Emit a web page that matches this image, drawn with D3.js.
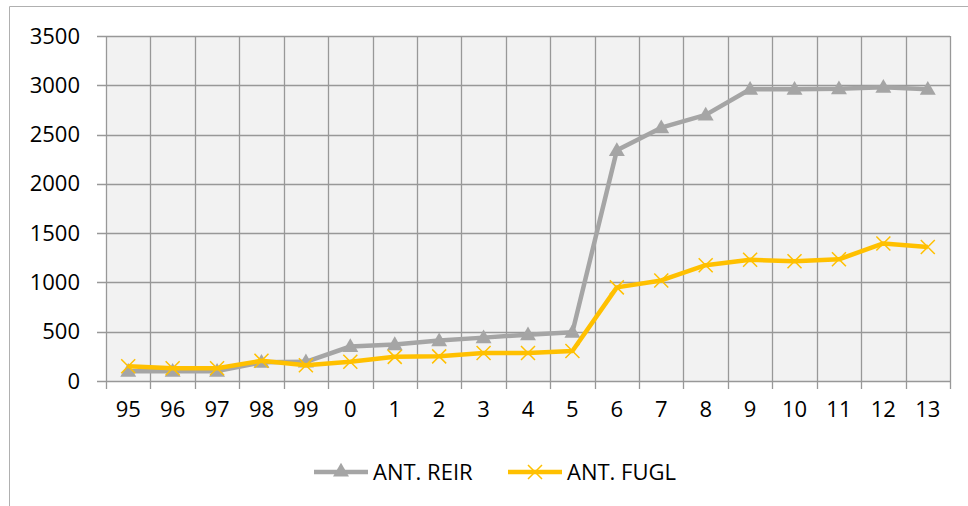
<!DOCTYPE html>
<html>
<head>
<meta charset="utf-8">
<script src="https://cdnjs.cloudflare.com/ajax/libs/d3/7.8.5/d3.min.js"></script>
<style>
  body { margin: 0; background: #fff; }
  svg text { font-family: "Open Sans", sans-serif; fill: #000; }
</style>
</head>
<body>
<div id="chart"></div>
<script>
// data
var years = ["95","96","97","98","99","0","1","2","3","4","5","6","7","8","9","10","11","12","13"];
var reir = [100,100,100,190,195,350,370,410,440,470,495,2340,2570,2700,2960,2960,2965,2980,2960];
var fugl = [150,130,130,205,160,195,245,250,285,285,305,950,1020,1175,1230,1215,1235,1395,1360];
var yTicks = [0,500,1000,1500,2000,2500,3000,3500];
var seriesNames = ["ANT. REIR", "ANT. FUGL"];

var width = 968, height = 506;
var margin = { left: 106, top: 36, right: 18, bottom: 125 };
var plotW = width - margin.left - margin.right;
var plotH = height - margin.top - margin.bottom;
var fontSize = "22px";

var svg = d3.select("#chart").append("svg")
    .attr("width", width).attr("height", height);

// outer chart border (runs off the right and bottom)
svg.append("path")
    .attr("d", "M9.5," + height + "V6.5H" + width)
    .attr("fill", "none").attr("stroke", "#b0b0b0").attr("stroke-width", 1);

var g = svg.append("g").attr("transform", "translate(" + margin.left + "," + margin.top + ")");

var x = d3.scaleBand().domain(years).range([0, plotW]).padding(0);
var y = d3.scaleLinear().domain([0, 3500]).range([plotH, 0]);

g.append("rect").attr("width", plotW).attr("height", plotH).attr("fill", "#f2f2f2");

var gridColor = "#989898";

// horizontal grid
g.selectAll(".hgrid").data(yTicks).enter().append("line")
    .attr("x1", -9).attr("x2", plotW)
    .attr("y1", function(d) { return Math.round(y(d)) + 0.5; })
    .attr("y2", function(d) { return Math.round(y(d)) + 0.5; })
    .attr("stroke", gridColor).attr("stroke-width", 1.3);

// vertical grid at category boundaries, with tick marks below
var bounds = years.map(function(d) { return x(d); }).concat([plotW]);
g.selectAll(".vgrid").data(bounds).enter().append("line")
    .attr("x1", function(d) { return Math.round(d) + 0.5; })
    .attr("x2", function(d) { return Math.round(d) + 0.5; })
    .attr("y1", 0).attr("y2", plotH + 8)
    .attr("stroke", gridColor).attr("stroke-width", 1.3);

// y axis labels
var yAxis = d3.axisLeft(y).tickValues(yTicks).tickFormat(d3.format("d")).tickSize(0).tickPadding(26);
var ya = g.append("g").call(yAxis);
ya.select(".domain").remove();
ya.selectAll("text").style("font-size", fontSize).style("font-family", "Open Sans, sans-serif").attr("fill", "#000");

// x axis labels
var xAxis = d3.axisBottom(x).tickSize(0).tickPadding(20);
var xa = g.append("g").attr("transform", "translate(0," + plotH + ")").call(xAxis);
xa.select(".domain").remove();
xa.selectAll("text").style("font-size", fontSize).style("font-family", "Open Sans, sans-serif").attr("fill", "#000");

var cx = function(d, i) { return x(years[i]) + x.bandwidth() / 2; };
var line = d3.line().x(cx).y(function(d) { return y(d); });

var grey = "#a5a5a5", gold = "#ffc000";
var tri = d3.symbol().type(d3.symbolTriangle).size(110);

function xMark(s) {
  return "M" + (-s) + "," + (-s) + "L" + s + "," + s + "M" + (-s) + "," + s + "L" + s + "," + (-s);
}

// REIR
g.append("path").datum(reir).attr("d", line)
    .attr("fill", "none").attr("stroke", grey).attr("stroke-width", 4.5).attr("stroke-linejoin", "round");
g.selectAll(".tri").data(reir).enter().append("path")
    .attr("d", tri)
    .attr("transform", function(d, i) { return "translate(" + cx(d, i) + "," + (y(d) + 1) + ")"; })
    .attr("fill", grey);

// FUGL
g.append("path").datum(fugl).attr("d", line)
    .attr("fill", "none").attr("stroke", gold).attr("stroke-width", 4.5).attr("stroke-linejoin", "round");
g.selectAll(".xm").data(fugl).enter().append("path")
    .attr("d", xMark(7))
    .attr("transform", function(d, i) { return "translate(" + cx(d, i) + "," + y(d) + ")"; })
    .attr("fill", "none").attr("stroke", gold).attr("stroke-width", 1.5);

// legend
var legend = svg.append("g").attr("transform", "translate(0,472)");
var legX = [314, 508];
seriesNames.forEach(function(name, i) {
  var lg = legend.append("g").attr("transform", "translate(" + legX[i] + ",0)");
  lg.append("line").attr("x1", 0).attr("x2", 54).attr("y1", 0).attr("y2", 0)
      .attr("stroke", i === 0 ? grey : gold).attr("stroke-width", 4.5);
  if (i === 0) {
    lg.append("path").attr("d", tri).attr("transform", "translate(27,0)").attr("fill", grey);
  } else {
    lg.append("path").attr("d", xMark(7)).attr("transform", "translate(27,0)")
        .attr("fill", "none").attr("stroke", gold).attr("stroke-width", 1.5);
  }
  lg.append("text").attr("x", 59).attr("y", 8).style("font-size", fontSize).text(name);
});
</script>
</body>
</html>
